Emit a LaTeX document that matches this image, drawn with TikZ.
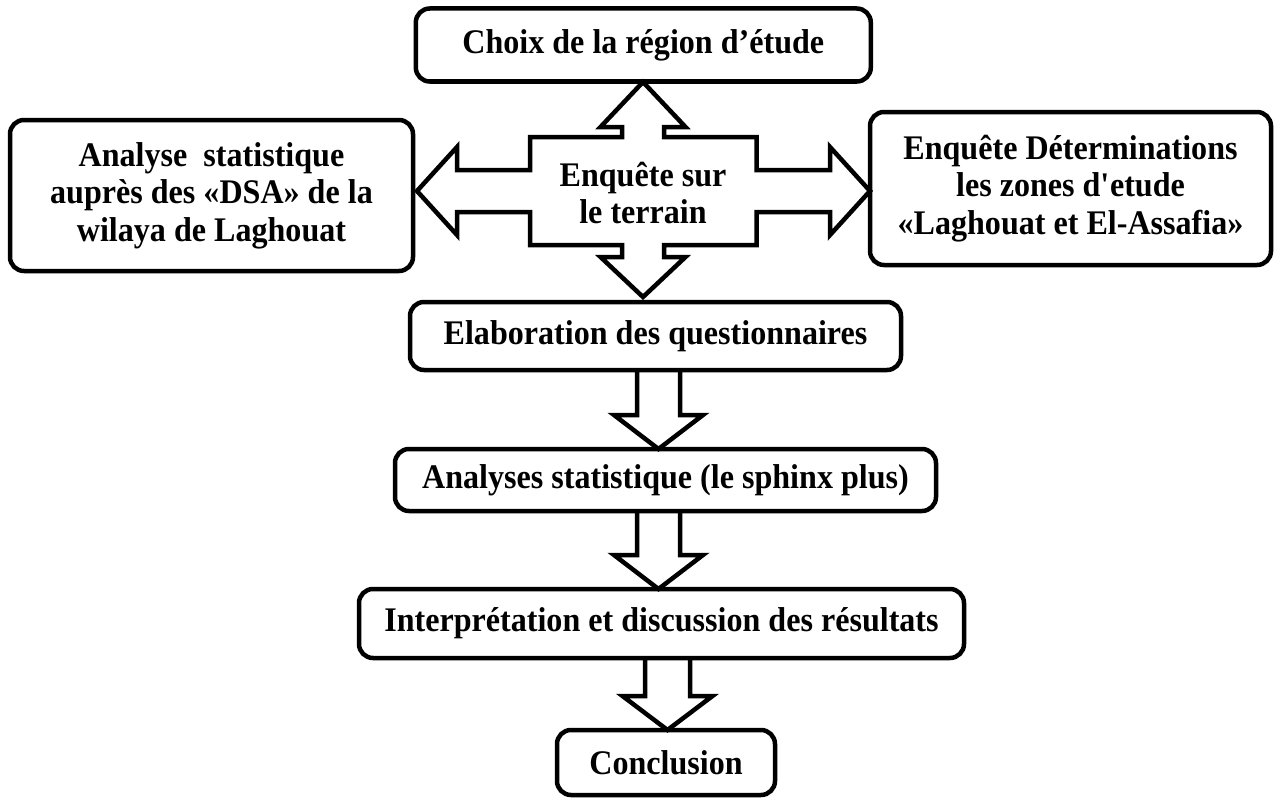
\documentclass[tikz,border=0pt]{standalone}
\usepackage{fontspec}
\setmainfont{Liberation Serif}[FakeStretch=0.93]
\usetikzlibrary{calc}
\tikzset{
  box/.style={draw=black, line width=4.5pt, rounded corners=14pt, fill=white,
    inner sep=0pt, outer sep=0pt, align=center,
    font=\bfseries\fontsize{34.5}{37.5}\selectfont},
  blockarr/.style={draw=black, line width=4.5pt, line join=miter},
  lbl/.style={inner sep=0pt, outer sep=0pt, align=center,
    font=\bfseries\fontsize{34.5}{37.5}\selectfont}
}
\newcommand\blockdown[5]{% from, to, x, stem half width, head half width
  \draw[blockarr] let \p1=(#1.south), \p2=(#2.north), \p3=(#3,0) in
    (\x3-#4pt,\y1) -- (\x3-#4pt,\y2+34pt) -- (\x3-#5pt,\y2+34pt) -- (\x3,\y2)
    -- (\x3+#5pt,\y2+34pt) -- (\x3+#4pt,\y2+34pt) -- (\x3+#4pt,\y1);
}
\begin{document}
\begin{tikzpicture}[x=1pt,y=-1pt]
\useasboundingbox (0,0) rectangle (1277,800);

% boxes
\node[box, minimum width=455pt, minimum height=73pt] (choix) at (643.3,45) {Choix de la région d’étude};
\node[box, minimum width=403pt, minimum height=151pt] (dsa) at (211.5,195.5) {Analyse~ statistique\\auprès des «DSA» de la\\wilaya de Laghouat};
\node[box, minimum width=401pt, minimum height=153pt] (zones) at (1070.5,188.5) {Enquête Déterminations\\les zones d\textquotesingle etude\\«Laghouat et El-Assafia»};
\node[box, minimum width=491pt, minimum height=68pt] (elab) at (655.5,336) {Elaboration des questionnaires};
\node[box, minimum width=541pt, minimum height=62pt] (anal) at (665.5,480) {Analyses statistique (le sphinx plus)};
\node[box, minimum width=605pt, minimum height=69pt] (interp) at (661.5,623.5) {Interprétation et discussion des résultats};
\node[box, minimum width=218pt, minimum height=65pt] (concl) at (666,762.5) {Conclusion};

% four-way block arrow
\begin{scope}[shift={(643,191)}]
\draw[blockarr, fill=white]
  (0,-109) -- (42.5,-64) -- (21,-64) -- (21,-54) -- (113.5,-54) -- (113.5,-21)
  -- (187,-21) -- (187,-44) -- (227,0) -- (187,44) -- (187,21) -- (113.5,21)
  -- (113.5,54) -- (21,54) -- (21,66) -- (42.5,66) -- (0,106) -- (-42.5,66)
  -- (-21,66) -- (-21,54) -- (-113,54) -- (-113,21) -- (-186,21) -- (-186,44)
  -- (-226,0) -- (-186,-44) -- (-186,-21) -- (-113,-21) -- (-113,-54)
  -- (-21,-54) -- (-21,-64) -- (-42.5,-64) -- cycle;
\end{scope}
\node[lbl] (enq) at (643,193) {Enquête sur\\le terrain};

% down block arrows
\blockdown{elab}{anal}{658.5}{21.5}{44.5}
\blockdown{anal}{interp}{658.5}{21.5}{44.5}
\blockdown{interp}{concl}{667.5}{22.5}{45}
\end{tikzpicture}
\end{document}
